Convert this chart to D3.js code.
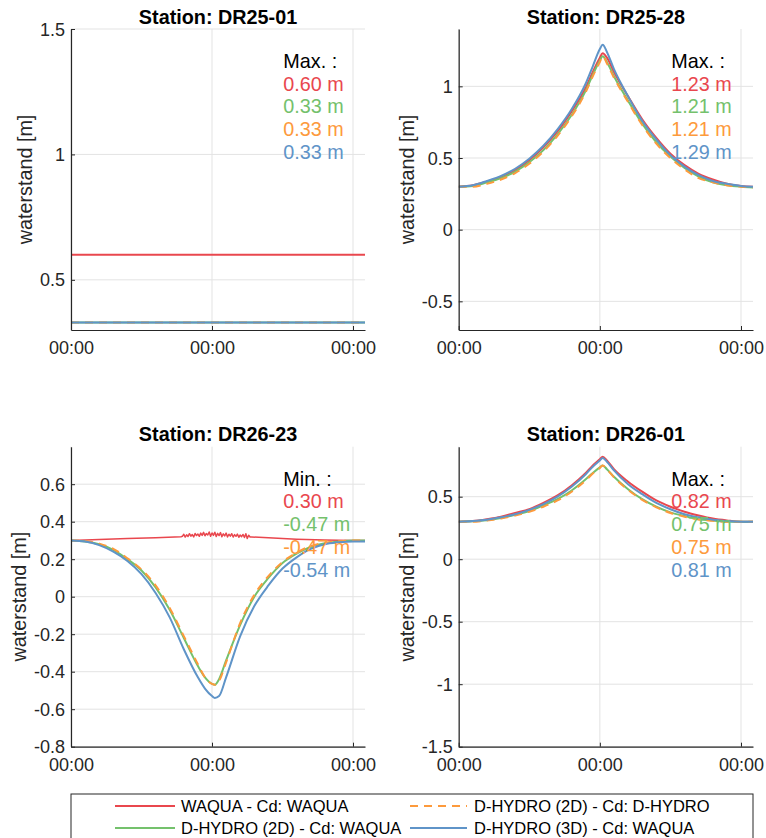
<!DOCTYPE html>
<html>
<head>
<meta charset="utf-8">
<script src="https://cdn.jsdelivr.net/npm/d3@7"></script>
<style>
  body { margin: 0; background: #fff; }
  svg { display: block; font-family: "Liberation Sans", Arial, sans-serif; }
</style>
</head>
<body>
<svg id="chart" width="766" height="838"></svg>
<script>
// ---------------- DATA ----------------
const seriesNames = ["WAQUA - Cd: WAQUA", "D-HYDRO (2D) - Cd: WAQUA", "D-HYDRO (2D) - Cd: D-HYDRO", "D-HYDRO (3D) - Cd: WAQUA"];
const seriesColors = ["#e9474e", "#74c16c", "#fd9a3c", "#5f94c8"];
const xTicks = [0, 1, 2];
const xTickLabel = "00:00";
const xDomain = [0, 2.085];

// time grid (days)
const tGrid = [0, 0.1, 0.2, 0.3, 0.4, 0.5, 0.6, 0.7, 0.8, 0.9, 0.95, 1.0, 1.02, 1.05, 1.1, 1.2, 1.3, 1.4, 1.5, 1.6, 1.7, 1.8, 1.9, 2.0, 2.085];
const tFlat = [0, 2.085];

// Station DR25-01
const dr2501_yTicks = [0.5, 1, 1.5];
const dr2501_yDomain = [0.3, 1.5];
const dr2501_waqua = [0.60, 0.60];
const dr2501_dh2dWaqua = [0.33, 0.33];
const dr2501_dh2dDhydro = [0.33, 0.33];
const dr2501_dh3dWaqua = [0.33, 0.33];
const dr2501_ann = ["Max. :", "0.60 m", "0.33 m", "0.33 m", "0.33 m"];

// Station DR25-28
const dr2528_yTicks = [-0.5, 0, 0.5, 1];
const dr2528_yDomain = [-0.7, 1.4];
const dr2528_waqua     = [0.30, 0.31, 0.335, 0.365, 0.415, 0.485, 0.575, 0.685, 0.825, 0.99, 1.10, 1.20, 1.23, 1.20, 1.10, 0.93, 0.77, 0.64, 0.53, 0.45, 0.39, 0.35, 0.32, 0.305, 0.30];
const dr2528_dh2dWaqua = [0.30, 0.305, 0.33, 0.36, 0.405, 0.47, 0.555, 0.665, 0.80, 0.97, 1.08, 1.18, 1.21, 1.17, 1.07, 0.90, 0.74, 0.61, 0.51, 0.43, 0.37, 0.33, 0.31, 0.30, 0.295];
const dr2528_dh2dDhydro= [0.30, 0.30, 0.32, 0.35, 0.395, 0.46, 0.545, 0.655, 0.79, 0.96, 1.07, 1.17, 1.21, 1.16, 1.06, 0.89, 0.73, 0.60, 0.50, 0.42, 0.36, 0.33, 0.31, 0.30, 0.295];
const dr2528_dh3dWaqua = [0.30, 0.31, 0.34, 0.375, 0.425, 0.495, 0.585, 0.70, 0.84, 1.02, 1.14, 1.26, 1.29, 1.24, 1.12, 0.93, 0.76, 0.63, 0.52, 0.44, 0.38, 0.34, 0.32, 0.305, 0.30];
const dr2528_ann = ["Max. :", "1.23 m", "1.21 m", "1.21 m", "1.29 m"];

// Station DR26-23
const dr2623_yTicks = [-0.8, -0.6, -0.4, -0.2, 0, 0.2, 0.4, 0.6];
const dr2623_yDomain = [-0.8, 0.8];
const dr2623_tWaqua = [0, 0.2, 0.4, 0.6, 0.78,
  0.79, 0.80, 0.81, 0.82, 0.83, 0.84, 0.85, 0.86, 0.87, 0.88, 0.89, 0.90, 0.91, 0.92, 0.93, 0.94, 0.95, 0.96, 0.97, 0.98, 0.99,
  1.00, 1.01, 1.02, 1.03, 1.04, 1.05, 1.06, 1.07, 1.08, 1.09, 1.10, 1.11, 1.12, 1.13, 1.14, 1.15, 1.16, 1.17, 1.18, 1.19,
  1.20, 1.21, 1.22, 1.23, 1.24, 1.25, 1.26, 1.27, 1.28, 1.4, 1.6, 1.8, 2.0, 2.085];
const dr2623_waqua = [0.30, 0.305, 0.31, 0.315, 0.32,
  0.322, 0.333, 0.318, 0.330, 0.321, 0.336, 0.323, 0.331, 0.319, 0.337, 0.326, 0.334, 0.322, 0.339, 0.327, 0.343, 0.325, 0.337, 0.329, 0.345, 0.322,
  0.340, 0.327, 0.344, 0.321, 0.338, 0.326, 0.342, 0.320, 0.335, 0.324, 0.339, 0.319, 0.333, 0.323, 0.336, 0.318, 0.331, 0.322, 0.334, 0.317,
  0.329, 0.320, 0.332, 0.316, 0.336, 0.310, 0.328, 0.318, 0.319, 0.314, 0.307, 0.302, 0.30, 0.30];
const dr2623_dh2dWaqua = [0.30, 0.295, 0.28, 0.25, 0.20, 0.14, 0.05, -0.07, -0.22, -0.37, -0.43, -0.465, -0.47, -0.44, -0.34, -0.15, 0.0, 0.10, 0.18, 0.23, 0.265, 0.285, 0.295, 0.30, 0.30];
const dr2623_dh2dDhydro= [0.30, 0.297, 0.283, 0.255, 0.205, 0.145, 0.06, -0.06, -0.21, -0.36, -0.43, -0.465, -0.47, -0.45, -0.35, -0.14, 0.01, 0.11, 0.185, 0.235, 0.27, 0.288, 0.296, 0.30, 0.30];
const dr2623_dh3dWaqua = [0.30, 0.295, 0.275, 0.24, 0.19, 0.12, 0.02, -0.11, -0.28, -0.43, -0.49, -0.53, -0.54, -0.53, -0.43, -0.21, -0.05, 0.06, 0.15, 0.21, 0.255, 0.28, 0.29, 0.295, 0.295];
const dr2623_ann = ["Min. :", "0.30 m", "-0.47 m", "-0.47 m", "-0.54 m"];

// Station DR26-01
const dr2601_yTicks = [-1.5, -1, -0.5, 0, 0.5];
const dr2601_yDomain = [-1.5, 0.9];
const dr2601_waqua     = [0.30, 0.305, 0.32, 0.34, 0.37, 0.40, 0.45, 0.51, 0.59, 0.69, 0.75, 0.80, 0.82, 0.79, 0.72, 0.62, 0.54, 0.47, 0.42, 0.38, 0.35, 0.325, 0.31, 0.30, 0.30];
const dr2601_dh2dWaqua = [0.30, 0.303, 0.312, 0.33, 0.355, 0.385, 0.43, 0.48, 0.55, 0.64, 0.69, 0.735, 0.75, 0.72, 0.66, 0.56, 0.48, 0.42, 0.375, 0.345, 0.32, 0.31, 0.30, 0.30, 0.30];
const dr2601_dh2dDhydro= [0.30, 0.30, 0.31, 0.325, 0.35, 0.38, 0.42, 0.47, 0.54, 0.63, 0.685, 0.73, 0.75, 0.72, 0.655, 0.555, 0.475, 0.415, 0.37, 0.34, 0.318, 0.307, 0.30, 0.30, 0.30];
const dr2601_dh3dWaqua = [0.30, 0.305, 0.315, 0.335, 0.36, 0.395, 0.44, 0.50, 0.58, 0.68, 0.74, 0.79, 0.81, 0.78, 0.71, 0.60, 0.52, 0.45, 0.40, 0.36, 0.335, 0.315, 0.305, 0.30, 0.30];
const dr2601_ann = ["Max. :", "0.82 m", "0.75 m", "0.75 m", "0.81 m"];

// ---------------- BUILD ----------------
const panels = [
  { title: "Station: DR25-01", box: [71, 29, 365, 330], yDomain: dr2501_yDomain, yTicks: dr2501_yTicks, ann: dr2501_ann,
    series: [[tFlat, dr2501_waqua], [tFlat, dr2501_dh2dWaqua], [tFlat, dr2501_dh2dDhydro], [tFlat, dr2501_dh3dWaqua]] },
  { title: "Station: DR25-28", box: [458.7, 29, 753, 330], yDomain: dr2528_yDomain, yTicks: dr2528_yTicks, ann: dr2528_ann,
    series: [[tGrid, dr2528_waqua], [tGrid, dr2528_dh2dWaqua], [tGrid, dr2528_dh2dDhydro], [tGrid, dr2528_dh3dWaqua]] },
  { title: "Station: DR26-23", box: [71, 446.7, 365, 746.7], yDomain: dr2623_yDomain, yTicks: dr2623_yTicks, ann: dr2623_ann,
    series: [[dr2623_tWaqua, dr2623_waqua], [tGrid, dr2623_dh2dWaqua], [tGrid, dr2623_dh2dDhydro], [tGrid, dr2623_dh3dWaqua]] },
  { title: "Station: DR26-01", box: [458.7, 446.7, 753, 746.7], yDomain: dr2601_yDomain, yTicks: dr2601_yTicks, ann: dr2601_ann,
    series: [[tGrid, dr2601_waqua], [tGrid, dr2601_dh2dWaqua], [tGrid, dr2601_dh2dDhydro], [tGrid, dr2601_dh3dWaqua]] }
];

const svg = d3.select("#chart");
const axisColor = "#262626";
const gridColor = "#e3e3e3";
const fmt = d => String(+d.toFixed(2));

panels.forEach((p, pi) => {
  const [x0, y0, x1, y1] = p.box;
  const x = d3.scaleLinear().domain(xDomain).range([x0, x1]);
  const y = d3.scaleLinear().domain(p.yDomain).range([y1, y0]);
  const g = svg.append("g");

  // grid
  g.append("g").selectAll("line").data(p.yTicks).join("line")
    .attr("x1", x0).attr("x2", x1).attr("y1", d => y(d)).attr("y2", d => y(d))
    .attr("stroke", gridColor).attr("stroke-width", 1);
  g.append("g").selectAll("line").data(xTicks).join("line")
    .attr("x1", d => x(d)).attr("x2", d => x(d)).attr("y1", y0).attr("y2", y1)
    .attr("stroke", gridColor).attr("stroke-width", 1);

  // clip
  const clipId = "clip" + pi;
  svg.append("clipPath").attr("id", clipId).append("rect")
    .attr("x", x0).attr("y", y0).attr("width", x1 - x0).attr("height", y1 - y0);

  // lines
  const lineG = g.append("g").attr("clip-path", `url(#${clipId})`);
  p.series.forEach((s, si) => {
    const [ts, vs] = s;
    const pts = ts.map((t, i) => [t, vs[i]]);
    const noisy = ts.length > 30;
    const line = d3.line().x(d => x(d[0])).y(d => y(d[1]))
      .curve(noisy ? d3.curveLinear : d3.curveMonotoneX);
    lineG.append("path").datum(pts)
      .attr("d", line)
      .attr("fill", "none")
      .attr("stroke", seriesColors[si])
      .attr("stroke-width", noisy ? 1.5 : 2)
      .attr("stroke-linejoin", "round")
      .attr("stroke-dasharray", si === 2 ? "8,6" : null);
  });

  // axes
  const xAxis = d3.axisBottom(x).tickValues(xTicks).tickFormat(() => xTickLabel).tickSizeInner(-4).tickSizeOuter(0).tickPadding(12);
  const yAxis = d3.axisLeft(y).tickValues(p.yTicks).tickFormat(fmt).tickSizeInner(-4).tickSizeOuter(0).tickPadding(6);
  const gx = g.append("g").attr("transform", `translate(0,${y1})`).call(xAxis);
  const gy = g.append("g").attr("transform", `translate(${x0},0)`).call(yAxis);
  [gx, gy].forEach(a => {
    a.select(".domain").attr("stroke", axisColor).attr("stroke-width", 1.2);
    a.selectAll(".tick line").attr("stroke", axisColor).attr("stroke-width", 1);
    a.selectAll(".tick text").attr("fill", axisColor).style("font-size", "18px").style("font-family", '"Liberation Sans", Arial, sans-serif');
  });
  gx.selectAll(".tick text").attr("dy", null).attr("y", 18).attr("dominant-baseline", "central");
  gy.selectAll(".tick text").attr("dy", null).attr("dominant-baseline", "central");

  // y label
  let maxW = 0;
  gy.selectAll(".tick text").each(function () { maxW = Math.max(maxW, this.getBBox().width); });
  const lx = x0 - maxW - 21;
  const ly = (y0 + y1) / 2;
  g.append("text").text("waterstand [m]")
    .attr("transform", `translate(${lx},${ly}) rotate(-90)`)
    .attr("text-anchor", "middle").attr("dominant-baseline", "central")
    .attr("fill", axisColor).style("font-size", "19.8px");

  // title
  g.append("text").text(p.title)
    .attr("x", (x0 + x1) / 2).attr("y", y0 - 12.3)
    .attr("text-anchor", "middle").attr("dominant-baseline", "central")
    .attr("fill", "#000").style("font-size", "19.8px").style("font-weight", "bold");

  // annotation
  const ax = x0 + 0.722 * (x1 - x0);
  p.ann.forEach((t, i) => {
    g.append("text").text(t)
      .attr("x", ax).attr("y", y0 + 32 + i * 22.7)
      .attr("dominant-baseline", "central")
      .attr("fill", i === 0 ? "#000" : seriesColors[i - 1])
      .style("font-size", "19.8px");
  });
});

// ---------------- LEGEND ----------------
const lg = svg.append("g");
lg.append("rect").attr("x", 71).attr("y", 794).attr("width", 682).attr("height", 60)
  .attr("fill", "#fff").attr("stroke", axisColor).attr("stroke-width", 1);
const legendPos = [
  { lx0: 115, lx1: 175, tx: 181, y: 806 },
  { lx0: 115, lx1: 175, tx: 181, y: 828 },
  { lx0: 410, lx1: 467, tx: 474, y: 806 },
  { lx0: 410, lx1: 467, tx: 474, y: 828 }
];
seriesNames.forEach((name, i) => {
  const lp = legendPos[i];
  lg.append("line").attr("x1", lp.lx0).attr("x2", lp.lx1).attr("y1", lp.y).attr("y2", lp.y)
    .attr("stroke", seriesColors[i]).attr("stroke-width", 2)
    .attr("stroke-dasharray", i === 2 ? "8,6" : null);
  lg.append("text").text(name).attr("x", lp.tx).attr("y", lp.y)
    .attr("dominant-baseline", "central").attr("fill", "#000").style("font-size", "16.5px");
});
</script>
</body>
</html>
